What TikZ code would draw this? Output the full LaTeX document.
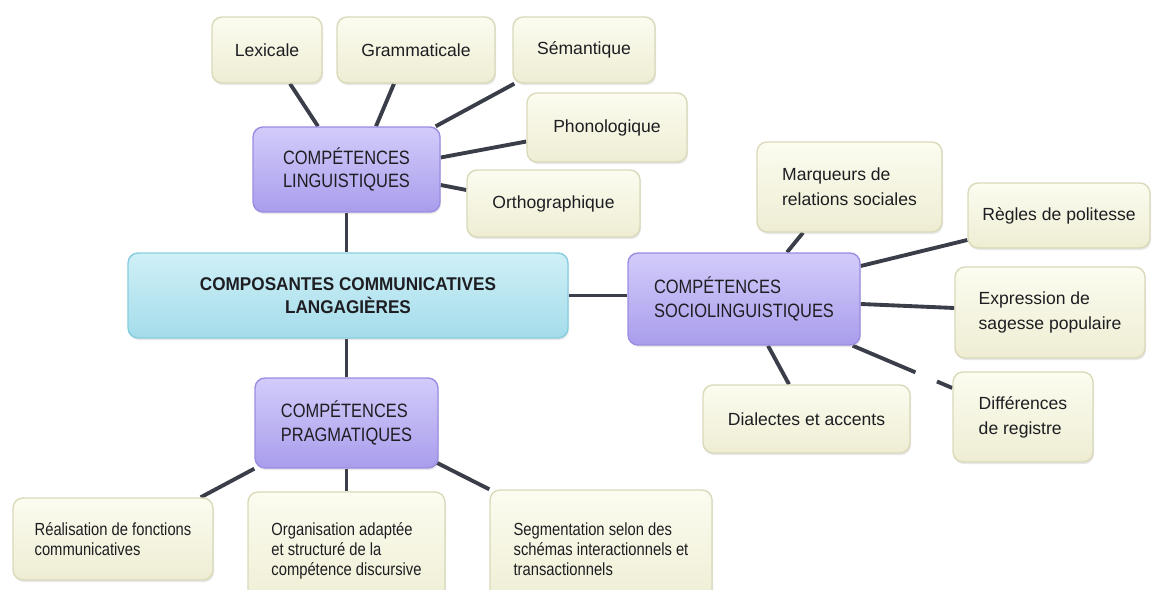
\documentclass[tikz,border=0pt]{standalone}
\usepackage{fontspec}
\setmainfont{Liberation Sans}
\newfontfamily\leaffont{Liberation Sans}
\newfontfamily\catfont[FakeStretch=0.85]{Liberation Sans}
\newfontfamily\cenfont[FakeStretch=0.93]{Liberation Sans}
\newfontfamily\botfont[FakeStretch=0.84]{Liberation Sans}
\usetikzlibrary{calc,shadows,backgrounds}
\definecolor{leaftop}{HTML}{FCFCF0}
\definecolor{leafbot}{HTML}{EEEDD3}
\definecolor{leafdraw}{HTML}{DAD9BA}
\definecolor{cattop}{HTML}{D2CCFA}
\definecolor{catbot}{HTML}{A99DEC}
\definecolor{catdraw}{HTML}{9A8DE2}
\definecolor{centop}{HTML}{CFF0F7}
\definecolor{cenbot}{HTML}{A4DCEA}
\definecolor{cendraw}{HTML}{88CDDF}
\definecolor{linkc}{HTML}{3A3E48}
\definecolor{txtc}{HTML}{1E1E22}
\begin{document}
\begin{tikzpicture}[x=0.02cm,y=-0.02cm,
 box/.style={rounded corners=0.2cm, inner sep=0pt, line width=0.8pt,
   drop shadow={shadow xshift=0.6pt,shadow yshift=-1.2pt,opacity=0.18}, text=txtc},
 leaf/.style={box, draw=leafdraw, top color=leaftop, bottom color=leafbot,
   font=\leaffont\fontsize{10}{14.2}\selectfont, align=left},
 bot/.style={leaf, font=\botfont\fontsize{10}{11.3}\selectfont},
 cat/.style={box, draw=catdraw, top color=cattop, bottom color=catbot,
   font=\catfont\fontsize{11}{13.2}\selectfont, align=left},
 cen/.style={box, draw=cendraw, top color=centop, bottom color=cenbot,
   font=\cenfont\bfseries\fontsize{10.5}{13}\selectfont, align=center},
 link/.style={draw=linkc, line width=2.2pt}]
\useasboundingbox (0,0) rectangle (1159,590);

\node[leaf, minimum width=2.2cm, minimum height=1.32cm] (lex) at (267,50) {Lexicale};
\node[leaf, minimum width=3.16cm, minimum height=1.32cm] (gram) at (416,50) {Grammaticale};
\node[leaf, minimum width=2.84cm, minimum height=1.32cm] (sem) at (584,50) {Sémantique};
\node[leaf, minimum width=3.2cm, minimum height=1.38cm] (phon) at (607,127.5) {Phonologique};
\node[leaf, minimum width=3.46cm, minimum height=1.34cm] (orth) at (553.5,203.5) {Orthographique};
\node[cat, minimum width=3.74cm, minimum height=1.7cm] (ling) at (346.5,169.5) {COMPÉTENCES\\LINGUISTIQUES};
\node[cen, minimum width=8.8cm, minimum height=1.7cm] (cen) at (348,295.5) {COMPOSANTES COMMUNICATIVES\\LANGAGIÈRES};
\node[cat, minimum width=4.64cm, minimum height=1.84cm] (socio) at (744,299) {COMPÉTENCES\\SOCIOLINGUISTIQUES};
\node[leaf, minimum width=3.7cm, minimum height=1.8cm] (marq) at (849.5,187) {Marqueurs de\\relations sociales};
\node[leaf, minimum width=3.64cm, minimum height=1.3cm] (regl) at (1059,215.5) {Règles de politesse};
\node[leaf, minimum width=3.8cm, minimum height=1.82cm] (expr) at (1050,312.5) {Expression de\\sagesse populaire};
\node[leaf, minimum width=4.14cm, minimum height=1.36cm] (dial) at (806.5,419) {Dialectes et accents};
\node[leaf, minimum width=2.8cm, minimum height=1.8cm] (diff) at (1023,417) {Différences\\de registre};
\node[cat, minimum width=3.66cm, minimum height=1.8cm] (prag) at (346.5,423) {COMPÉTENCES\\PRAGMATIQUES};
\node[bot, minimum width=4.0cm, minimum height=1.64cm] (real) at (113,539) {Réalisation de fonctions\\communicatives};
\node[bot, minimum width=3.94cm, minimum height=2.36cm] (orga) at (346.5,551) {Organisation adaptée\\et structuré de la\\compétence discursive};
\node[bot, minimum width=4.44cm, minimum height=2.36cm] (segm) at (601,549) {Segmentation selon des\\schémas interactionnels et\\transactionnels};

\begin{scope}[on background layer]
\draw[link] ($(lex.south)+(23,0)$) -- ($(ling.north)+(-28.5,0)$);
\draw[link] ($(gram.south)+(-22,0)$) -- ($(ling.north)+(29.5,0)$);
\draw[link] ($(sem.south west)+(2,0)$) -- ($(ling.north east)+(-5,0)$);
\draw[link] ($(phon.west)+(0,14)$) -- ($(ling.east)+(0,-12)$);
\draw[link] ($(orth.west)+(0,-13.5)$) -- ($(ling.east)+(0,15.5)$);
\draw[link] (ling.south) -- (ling.south |- cen.north);
\draw[link] (cen.east) -- (cen.east -| socio.west);
\draw[link] (prag.north) -- (prag.north |- cen.south);
\draw[link] ($(socio.north)+(43,0)$) -- ($(marq.south)+(-46.5,0)$);
\draw[link] ($(socio.east)+(0,-33)$) -- ($(regl.west)+(0,24.5)$);
\draw[link] ($(socio.east)+(0,5)$) -- ($(expr.west)+(0,-4.5)$);
\draw[link] ($(socio.south)+(24,0)$) -- ($(dial.north)+(-17.5,0)$);
\draw[link, dash pattern=on 38.8pt off 13.3pt on 30pt] ($(socio.south east)+(-8,0)$) -- ($(diff.west)+(0,-29)$);
\draw[link] (prag.south west) -- ($(real.north east)+(-13,0)$);
\draw[link] (prag.south) -- (prag.south |- orga.north);
\draw[link] ($(prag.south east)+(-2,-6)$) -- (segm.north west);
\end{scope}
\end{tikzpicture}
\end{document}
